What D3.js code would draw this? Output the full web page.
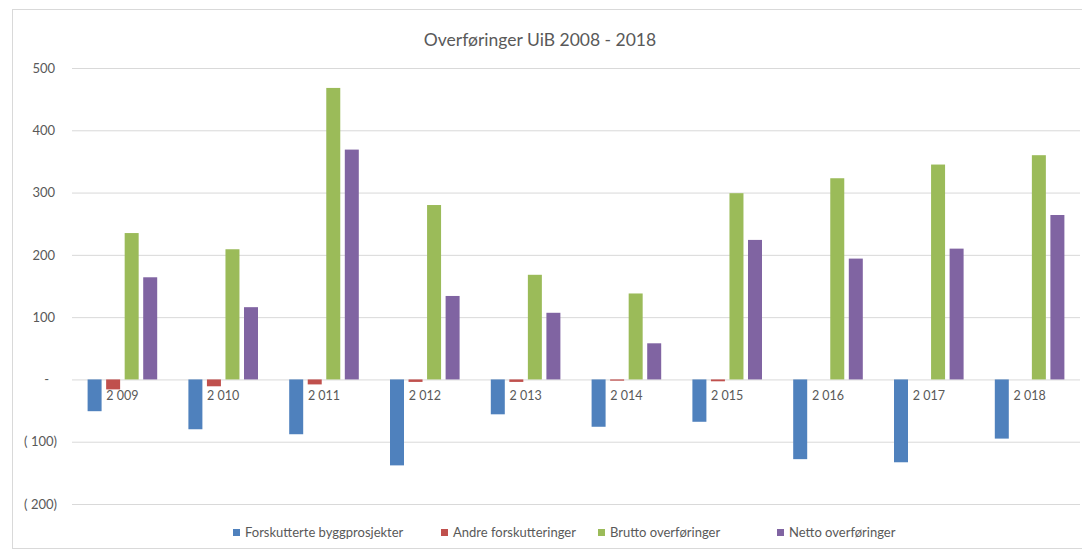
<!DOCTYPE html>
<html>
<head>
<meta charset="utf-8">
<script src="https://cdn.jsdelivr.net/npm/d3@7"></script>
<style>
  body { margin: 0; background: #fff; }
  svg { display: block; font-family: Lato, "Open Sans", sans-serif; }
</style>
</head>
<body>
<svg id="chart" width="1082" height="550"></svg>
<script>
const years = ["2 009", "2 010", "2 011", "2 012", "2 013", "2 014", "2 015", "2 016", "2 017", "2 018"];
const seriesNames = ["Forskutterte byggprosjekter", "Andre forskutteringer", "Brutto overføringer", "Netto overføringer"];
const seriesColors = ["#4F81BD", "#C0504D", "#9BBB59", "#8064A2"];

const forskutterteBygg = [-51, -80, -88, -138, -56, -76, -68, -128, -133, -95];
const andreForskutt = [-16, -11, -8, -4, -4, -2, -3, 0, 0, 0];
const brutto = [235, 209, 468, 280, 168, 138, 299, 323, 345, 360];
const netto = [164, 116, 369, 134, 107, 58, 224, 194, 210, 264];
const seriesValues = [forskutterteBygg, andreForskutt, brutto, netto];

const yTicks = [-200, -100, 0, 100, 200, 300, 400, 500];

const svg = d3.select("#chart");
const plotLeft = 72, plotRight = 1080, plotTop = 68, plotBottom = 504;

// chart frame
svg.append("rect")
    .attr("x", 12.5).attr("y", 9.5)
    .attr("width", 1082 - 12).attr("height", 548 - 9)
    .attr("fill", "none").attr("stroke", "#d9d9d9");

svg.append("text")
    .attr("x", 540).attr("y", 46)
    .attr("text-anchor", "middle")
    .attr("fill", "#595959")
    .style("font-size", "17.5px")
    .text("Overføringer UiB 2008 - 2018");

const y = d3.scaleLinear().domain([-200, 500]).range([plotBottom, plotTop]);
const x0 = d3.scaleBand().domain(years).range([plotLeft, plotRight]).padding(0);
const gw = 69.6, off = (x0.bandwidth() - gw) / 2;
const x1 = d3.scaleBand().domain(d3.range(4)).range([off, off + gw]).paddingInner(0.245);

// gridlines
const grid = svg.append("g")
    .attr("transform", `translate(${plotLeft},0)`)
    .call(d3.axisLeft(y).tickValues(yTicks).tickSize(-(plotRight - plotLeft)).tickFormat(""));
grid.select(".domain").remove();
grid.selectAll("line").attr("stroke", "#d9d9d9");

// y labels (accounting style)
const fmt = d => d === 0 ? "-" : d < 0 ? `( ${-d})` : `${d}`;
const yAxis = svg.append("g")
    .attr("transform", `translate(${plotLeft},0)`)
    .call(d3.axisLeft(y).tickValues(yTicks).tickSize(0).tickFormat(fmt));
yAxis.select(".domain").remove();
yAxis.selectAll("text")
    .attr("x", d => d < 0 ? -15 : d === 0 ? -23 : -17)
    .attr("fill", "#595959")
    .style("font-size", "13px")
    .style("font-family", "Lato, 'Open Sans', sans-serif");

// bars
const rows = years.map((yr, i) => ({ yr, vals: seriesValues.map(s => s[i]) }));
const groups = svg.selectAll(".grp")
    .data(rows)
    .enter().append("g")
    .attr("class", "grp")
    .attr("transform", d => `translate(${x0(d.yr)},0)`);

groups.selectAll("rect")
    .data(d => d.vals.map((v, k) => ({ v, k })))
    .enter().append("rect")
    .attr("x", d => x1(d.k))
    .attr("width", x1.bandwidth())
    .attr("y", d => y(Math.max(0, d.v)))
    .attr("height", d => Math.abs(y(d.v) - y(0)))
    .attr("fill", d => seriesColors[d.k]);

// category labels next to zero line
const xAxis = svg.append("g")
    .attr("transform", `translate(0,${y(0)})`)
    .call(d3.axisBottom(x0).tickSize(0).tickPadding(0));
xAxis.select(".domain").remove();
xAxis.selectAll("text")
    .attr("y", 12)
    .attr("fill", "#595959")
    .style("font-size", "12.5px")
    .style("font-family", "Lato, 'Open Sans', sans-serif");

// legend
const legendX = [233, 441, 598, 777];
const legend = svg.selectAll(".leg")
    .data(seriesNames)
    .enter().append("g")
    .attr("class", "leg")
    .attr("transform", (d, i) => `translate(${legendX[i]},533)`);
legend.append("rect")
    .attr("x", 0).attr("y", -4)
    .attr("width", 7).attr("height", 7)
    .attr("fill", (d, i) => seriesColors[i]);
legend.append("text")
    .attr("x", 12).attr("y", 4)
    .attr("fill", "#595959")
    .style("font-size", "13px")
    .text(d => d);
</script>
</body>
</html>
